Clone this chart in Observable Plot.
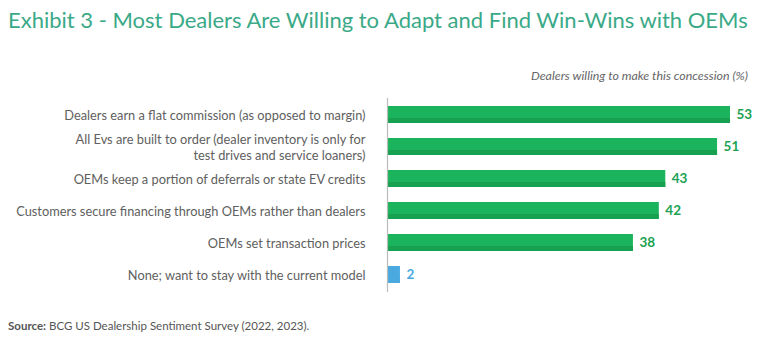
<!DOCTYPE html>
<html>
<head>
<meta charset="utf-8">
<script src="https://cdn.jsdelivr.net/npm/d3@7"></script>
<script src="https://cdn.jsdelivr.net/npm/@observablehq/plot@0.6"></script>
<style>
  html, body { margin: 0; padding: 0; background: #fff; }
  #wrap { position: relative; width: 768px; height: 363px; font-family: "Lato", sans-serif; }
  #title { position: absolute; left: 8px; top: 6px; font-size: 24px; color: #3aa987; white-space: nowrap; }
  #subtitle { position: absolute; right: 20px; top: 68px; font-size: 12.4px; font-style: italic; color: #666; }
  #chart { position: absolute; left: 0; top: 85px; }
  #source { position: absolute; left: 8px; top: 319px; font-size: 11.5px; color: #555; }
  #source b { color: #555; }
</style>
</head>
<body>
<div id="wrap">
  <div id="title">Exhibit 3 - Most Dealers Are Willing to Adapt and Find Win-Wins with OEMs</div>
  <div id="subtitle">Dealers willing to make this concession (%)</div>
  <div id="chart"></div>
  <div id="source"><b>Source:</b> BCG US Dealership Sentiment Survey (2022, 2023).</div>
</div>
<script>
const categories = [
  "Dealers earn a flat commission (as opposed to margin)",
  "All Evs are built to order (dealer inventory is only for\ntest drives and service loaners)",
  "OEMs keep a portion of deferrals or state EV credits",
  "Customers secure financing through OEMs rather than dealers",
  "OEMs set transaction prices",
  "None; want to stay with the current model"
];
const values = [53, 51, 43, 42, 38, 2];
const groups = ["yes", "yes", "yes", "yes", "yes", "none"];

const data = categories.map((c, i) => ({category: c, value: values[i], group: groups[i]}));
const colorFill = {yes: "#1bb35b", none: "#4aaae0"};
const colorDark = {yes: "#16a04f", none: "#4aaae0"};
const colorText = {yes: "#1ba254", none: "#4aaae0"};

// fit title to its width in the reference
const title = document.getElementById("title");
const tw = title.getBoundingClientRect().width;
title.style.fontSize = (24 * 740 / tw).toFixed(2) + "px";

const chart = Plot.plot({
  width: 768,
  height: 215,
  marginLeft: 387,
  marginRight: 38,
  marginTop: 13,
  marginBottom: 8,
  style: {fontFamily: "Lato, sans-serif", background: "transparent"},
  x: {domain: [0, 53], axis: null},
  y: {domain: categories, paddingInner: 0.46, paddingOuter: 0.21, label: null},
  marks: [
    Plot.barX(data, {y: "category", x: "value", fill: d => colorFill[d.group]}),
    Plot.barX(data, {y: "category", x: "value", fill: d => colorDark[d.group], insetTop: 12}),
    Plot.ruleX([0], {stroke: "#bbb", strokeWidth: 1.2}),
    Plot.text(data, {y: "category", x: "value", text: d => String(d.value), dx: 6, textAnchor: "start",
      fill: d => colorText[d.group], fontWeight: "bold", fontSize: 13.5}),
    Plot.axisY({tickSize: 0, tickPadding: 22, fontSize: 12.8, color: "#606060", lineHeight: 1.25})
  ]
});
document.getElementById("chart").appendChild(chart);
</script>
</body>
</html>
